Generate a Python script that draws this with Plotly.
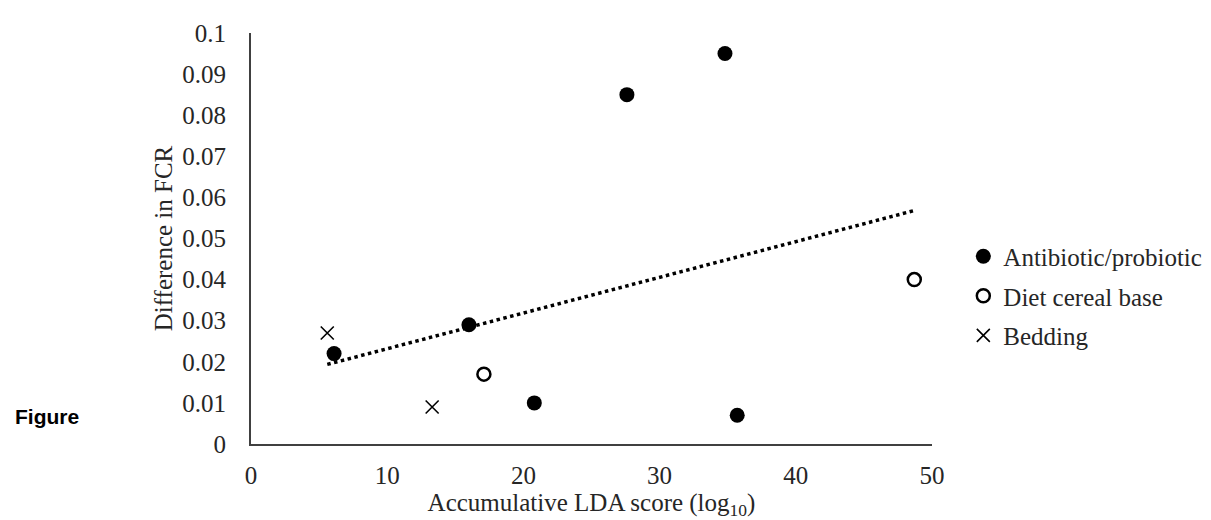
import numpy as np
import plotly.graph_objects as go

# Data
anti_x = [6.1, 16.0, 20.8, 27.6, 34.8, 35.7]
anti_y = [0.022, 0.029, 0.010, 0.085, 0.095, 0.007]
diet_x = [17.1, 48.7]
diet_y = [0.017, 0.040]
bed_x = [5.6, 13.3]
bed_y = [0.027, 0.009]

x_ticks = [0, 10, 20, 30, 40, 50]
y_ticks = [0, 0.01, 0.02, 0.03, 0.04, 0.05, 0.06, 0.07, 0.08, 0.09, 0.1]
y_labels = ["0", "0.01", "0.02", "0.03", "0.04", "0.05", "0.06", "0.07", "0.08", "0.09", "0.1"]

all_x = np.array(anti_x + diet_x + bed_x)
all_y = np.array(anti_y + diet_y + bed_y)
slope, intercept = np.polyfit(all_x, all_y, 1)
trend_x = [all_x.min(), all_x.max()]
trend_y = [slope * v + intercept for v in trend_x]

SERIF = "Liberation Serif"
TXT = "#262626"
FS = 25

fig = go.Figure()
fig.add_trace(go.Scatter(x=trend_x, y=trend_y, mode="lines",
                         line=dict(color="black", width=3.5, dash="dot"),
                         showlegend=False, hoverinfo="skip"))
fig.add_trace(go.Scatter(x=anti_x, y=anti_y, mode="markers", name="Antibiotic/probiotic",
                         legendgroup="a",
                         marker=dict(symbol="circle", size=15, color="black")))
fig.add_trace(go.Scatter(x=diet_x, y=diet_y, mode="markers", name="Diet cereal base",
                         legendgroup="b",
                         marker=dict(symbol="circle-open", size=13, color="black",
                                     line=dict(width=2.5, color="black"))))
fig.add_trace(go.Scatter(x=bed_x, y=bed_y, mode="markers", name="Bedding",
                         legendgroup="c",
                         marker=dict(symbol="x-thin-open", size=13, color="black",
                                     line=dict(width=1.6, color="black"))))

fig.add_annotation(text="<b>Figure</b>", xref="paper", yref="paper",
                   x=-0.349, y=0.067, xanchor="left", yanchor="middle",
                   showarrow=False, font=dict(family="Liberation Sans", size=21, color="black"))

fig.update_layout(
    width=1211, height=520,
    margin=dict(l=243, r=283, t=17, b=84),
    paper_bgcolor="white", plot_bgcolor="white",
    font=dict(family=SERIF, size=FS, color=TXT),
    legend=dict(x=1.046, y=0.512, xanchor="left", yanchor="top",
                font=dict(family=SERIF, size=FS, color=TXT),
                itemwidth=30, tracegroupgap=4, bgcolor="rgba(0,0,0,0)"),
    xaxis=dict(range=[0, 50], tickvals=x_ticks, showgrid=False, zeroline=False,
               showline=True, linecolor="#404040", linewidth=2,
               ticks="outside", ticklen=8, tickcolor="rgba(0,0,0,0)",
               tickfont=dict(family=SERIF, size=FS, color=TXT),
               title=dict(text="Accumulative LDA score (log<sub>10</sub>)",
                          font=dict(family=SERIF, size=FS, color=TXT), standoff=4)),
    yaxis=dict(range=[0, 0.1], tickvals=y_ticks, ticktext=y_labels, showgrid=False,
               zeroline=False, showline=True, linecolor="#404040", linewidth=2,
               ticks="outside", ticklen=18, tickcolor="rgba(0,0,0,0)",
               tickfont=dict(family=SERIF, size=FS, color=TXT),
               title=dict(text="Difference in FCR",
                          font=dict(family=SERIF, size=FS, color=TXT), standoff=3)),
)

fig.write_html("out.html")
